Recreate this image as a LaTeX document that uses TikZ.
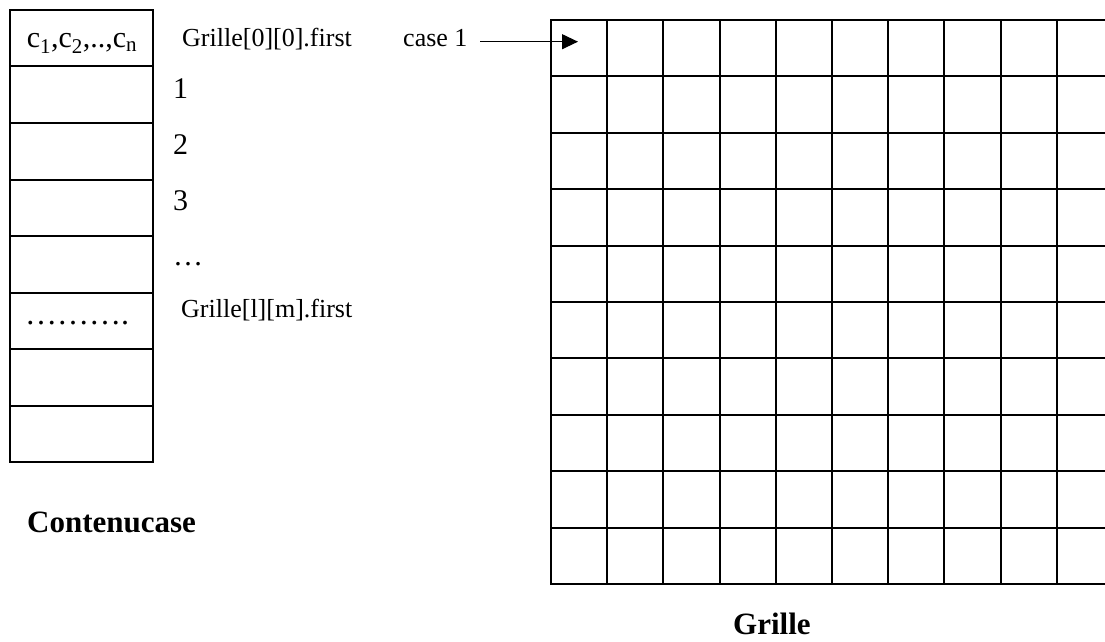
\documentclass[tikz,border=0pt]{standalone}
\usepackage{fontspec}
\setmainfont{Liberation Serif}
\usetikzlibrary{arrows.meta}
\tikzset{
  lbl/.style={inner sep=0pt, anchor=base west, font=\fontsize{26}{30}\selectfont},
  num/.style={inner sep=0pt, anchor=base west, font=\fontsize{30}{34}\selectfont},
  title/.style={inner sep=0pt, anchor=base west, font=\fontsize{31}{36}\selectfont\bfseries},
  gline/.style={line width=2pt},
  cellbox/.style={draw, gline, minimum width=143pt, minimum height=56.5pt, inner sep=0pt},
  ptr/.style={line width=1.2pt, -{Triangle[length=16pt,width=15pt]}}
}
\begin{document}
\begin{tikzpicture}[x=1pt,y=-1pt]
\useasboundingbox (0,0) rectangle (1105,642);
% Contenucase column
\foreach \i in {0,...,7}{
  \node[cellbox] (r\i) at (81.5,{38.25+56.5*\i}) {};
}
\node[inner sep=0pt, anchor=base, font=\fontsize{30}{34}\selectfont] (c) at (82,48) {c\textsubscript{1},c\textsubscript{2},..,c\textsubscript{n}};
\node[inner sep=0pt, anchor=base, font=\fontsize{32}{34}\selectfont] (dots) at (77,324) {……….};
% labels beside column
\node[lbl] (g00) at (182,47) {Grille[0][0].first};
\node[num] (n1) at (173,98) {1};
\node[num] (n2) at (173,154) {2};
\node[num] (n3) at (173,210) {3};
\node[num] (n4) at (173,265) {…};
\node[lbl] (glm) at (181,317) {Grille[l][m].first};
\node[title] (tc) at (27,532) {Contenucase};
% Grid
\begin{scope}
\clip (540,0) rectangle (1105,642);
\foreach \k in {0,...,10}{
  \draw[gline] ({551+56.2*\k},20) -- ({551+56.2*\k},584);
  \draw[gline] (550,{20+56.4*\k}) -- (1120,{20+56.4*\k});
}
\end{scope}
\coordinate (cell) at (578,41.7);
\coordinate (tail) at (480,41.7);
\node[lbl] (case) at (403,47) {case 1};
\draw[ptr] (tail) -- (cell);
\node[title] (tg) at (733,634) {Grille};
\end{tikzpicture}
\end{document}
